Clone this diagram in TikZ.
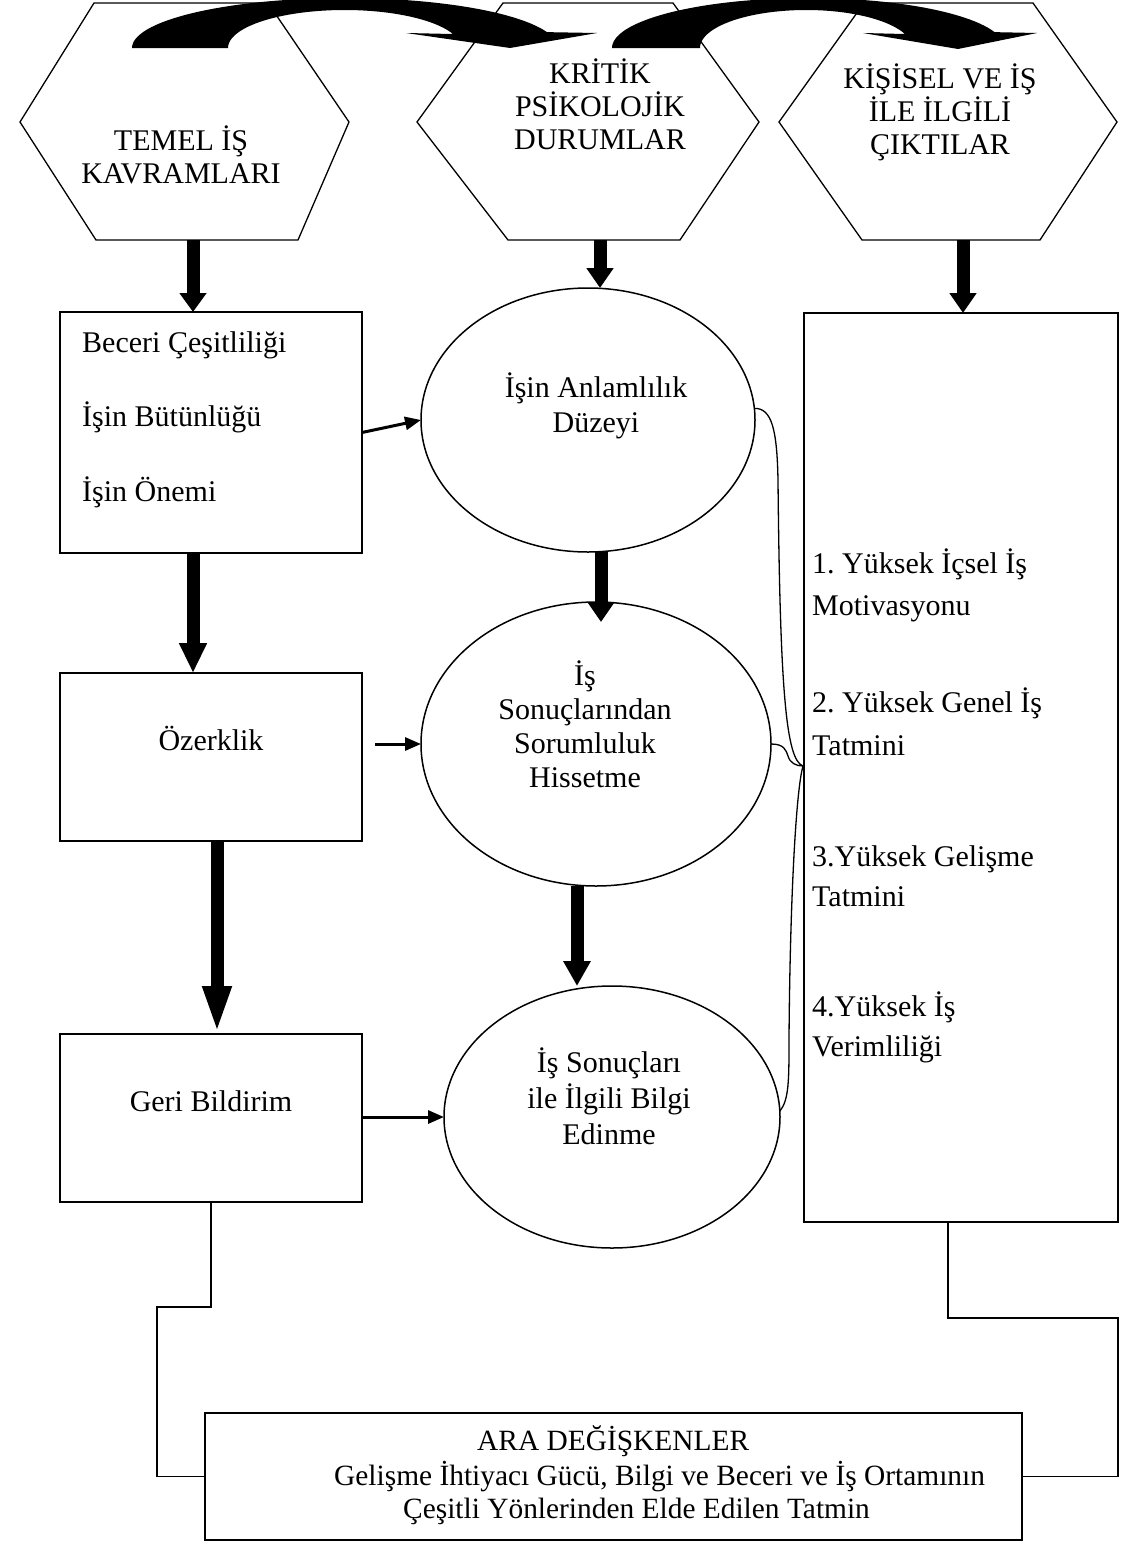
\documentclass[tikz,border=0pt]{standalone}
\usepackage{fontspec}
\setmainfont{Liberation Serif}
\usetikzlibrary{arrows.meta,shapes.geometric}
\newcommand\dgfont{\fontsize{30}{35}\selectfont}
\newcommand\dgsmall{\fontsize{29.4}{34}\selectfont}
\frenchspacing
\begin{document}
\begin{tikzpicture}[x=1pt,y=-1pt,
  frame/.style={draw, line width=1.5pt, inner sep=0pt, outer sep=0pt},
  oval/.style={ellipse, draw, line width=1.5pt, inner sep=0pt, outer sep=0pt},
  hexline/.style={line width=1.3pt, line join=miter},
  txt/.style={inner sep=0pt, anchor=base, font=\dgfont},
  ltxt/.style={txt, anchor=base west},
  bigarrow/.style={line width=13pt, -{Triangle[width=26pt,length=#1]}},
  bigarrow/.default=20pt,
  smallarrow/.style={line width=3pt, -{Triangle[width=13pt,length=16pt]}},
  link/.style={line width=1.3pt},
]
\useasboundingbox (0,0) rectangle (1124,1545);

% hexagonal headers
\draw[hexline] (94,3) -- (268,3) -- (349,122) -- (298,240) -- (96,240) -- (20,122) -- cycle;
\draw[hexline] (503,3) -- (673,3) -- (759,122) -- (680,240) -- (508,240) -- (417,122) -- cycle;
\draw[hexline] (864,3) -- (1033,3) -- (1117,122) -- (1040,240) -- (862,240) -- (779,122) -- cycle;

\node[txt] (h1a) at (181,150) {TEMEL İŞ};
\node[txt] (h1b) at (181,183) {KAVRAMLARI};
\node[txt] (h2a) at (600,83) {KRİTİK};
\node[txt] (h2b) at (600,116) {PSİKOLOJİK};
\node[txt] (h2c) at (600,149) {DURUMLAR};
\node[txt] (h3a) at (940,88) {KİŞİSEL VE İŞ};
\node[txt] (h3b) at (940,121) {İLE İLGİLİ};
\node[txt] (h3c) at (940,154) {ÇIKTILAR};

% curved arrows between the headers
\fill (132,48)
  -- plot[domain=180:341.5, samples=60] ({345+213*cos(\x)},{48+50*sin(\x)})
  -- (597,33) -- (510,48) -- (406,33)
  -- plot[domain=0:158.4, samples=60] ({344.6+116.6*cos(338.4-\x)},{48+38*sin(338.4-\x)})
  -- cycle;
\fill (612,48)
  -- plot[domain=180:341.5, samples=60] ({808.4+196.4*cos(\x)},{48+50*sin(\x)})
  -- (1037,33) -- (958,49) -- (863,33)
  -- plot[domain=0:158.4, samples=60] ({806.2+106.2*cos(338.4-\x)},{48+38*sin(338.4-\x)})
  -- cycle;

% left column: job dimensions
\node[frame, minimum width=302pt, minimum height=241pt] (b1) at (211,432.5) {};
\node[ltxt] (b1a) at (82,352) {Beceri Çeşitliliği};
\node[ltxt] (b1b) at (82,426) {İşin Bütünlüğü};
\node[ltxt] (b1c) at (82,501) {İşin Önemi};

\node[frame, minimum width=302pt, minimum height=168pt] (b2) at (211,757) {};
\node[txt] (b2a) at (211,750) {Özerklik};

\node[frame, minimum width=302pt, minimum height=168pt] (b3) at (211,1118) {};
\node[txt] (b3a) at (211,1111) {Geri Bildirim};

% middle column: psychological states
\node[oval, minimum width=334pt, minimum height=264pt] (e1) at (588,420) {};
\node[txt] (e1a) at (596,397) {İşin Anlamlılık};
\node[txt] (e1b) at (596,432) {Düzeyi};

\node[oval, minimum width=350pt, minimum height=284pt] (e2) at (596,744) {};
\node[txt] (e2a) at (585,685) {İş};
\node[txt] (e2b) at (585,719) {Sonuçlarından};
\node[txt] (e2c) at (585,753) {Sorumluluk};
\node[txt] (e2d) at (585,787) {Hissetme};

\node[oval, minimum width=336pt, minimum height=262pt] (e3) at (612,1117) {};
\node[txt] (e3a) at (609,1072) {İş Sonuçları};
\node[txt] (e3b) at (609,1108) {ile İlgili Bilgi};
\node[txt] (e3c) at (609,1144) {Edinme};

% right column: outcomes
\node[frame, minimum width=314pt, minimum height=909pt] (r) at (961,767.5) {};
\node[ltxt] (r1a) at (812,573) {1. Yüksek İçsel İş};
\node[ltxt] (r1b) at (812,615) {Motivasyonu};
\node[ltxt] (r2a) at (812,712) {2. Yüksek Genel İş};
\node[ltxt] (r2b) at (812,755) {Tatmini};
\node[ltxt] (r3a) at (812,866) {3.Yüksek Gelişme};
\node[ltxt] (r3b) at (812,906) {Tatmini};
\node[ltxt] (r4a) at (812,1016) {4.Yüksek İş};
\node[ltxt] (r4b) at (812,1056) {Verimliliği};

% moderators
\node[frame, minimum width=817pt, minimum height=127pt] (bot) at (613.5,1476.5) {};
\node[ltxt, font=\dgsmall] (bota) at (477,1450) {ARA DEĞİŞKENLER};
\node[ltxt, font=\dgsmall] (botb) at (334,1485) {Gelişme İhtiyacı Gücü, Bilgi ve Beceri ve İş Ortamının};
\node[ltxt, font=\dgsmall] (botc) at (403,1518) {Çeşitli Yönlerinden Elde Edilen Tatmin};

% thick downward arrows
\coordinate (h1s) at (193,240);
\coordinate (h2s) at (600,240);
\coordinate (h3s) at (963,240);
\draw[bigarrow=19pt] (h1s) -- (h1s |- b1.north);
\draw[bigarrow=20pt] (h2s) -- (h2s |- e1.north);
\draw[bigarrow=20pt] (h3s) -- (h3s |- r.north);
\draw[bigarrow=30pt] (b1.south -| h1s) -- (b2.north -| h1s);
\draw[bigarrow=48pt] ([xshift=6pt]b2.south) -- ([xshift=6pt]b3.north);
\draw[bigarrow=20pt] ([xshift=13pt]e1.south) -- ([xshift=5pt,yshift=-20pt]e2.north);
\draw[bigarrow=25pt] ([xshift=-19pt]e2.south) -- ([xshift=-35pt]e3.north);

% thin arrows into the states
\coordinate (g2) at (375,744);
\draw[smallarrow] (b1.east) -- (e1.west);
\draw[smallarrow] (g2) -- (e2.west);
\draw[smallarrow] (b3.east |- e3.west) -- (e3.west);

% states joined to the outcomes
\coordinate (J) at (803,766);
\draw[link] (e1.4) .. controls (772,408) and (777,430) .. (778,480)
  .. controls (780,690) and (786,760) .. (J);
\draw[link] (e2.east) .. controls (784,744) and (786,750) .. (788,756)
  .. controls (790,763) and (796,766) .. (J);
\draw[link] (e3.2) .. controls (789,1100) and (789,1080) .. (789,1040)
  .. controls (790,900) and (796,790) .. (J);

% feedback lines to the moderators
\coordinate (rb) at (948,1222);
\draw[link] (b3.south) |- (157,1307) |- (bot.west);
\draw[link] (rb) |- (1118,1318) |- (bot.east);
\end{tikzpicture}
\end{document}
